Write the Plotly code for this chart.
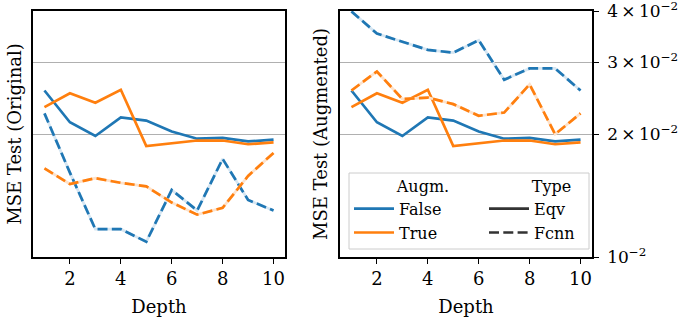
import plotly.graph_objects as go
import math

depth = [1, 2, 3, 4, 5, 6, 7, 8, 9, 10]

# Original test set
orig_eqv_false = [0.0256, 0.0214, 0.0198, 0.0220, 0.0216, 0.0203, 0.0195, 0.0196, 0.0192, 0.0194]
orig_eqv_true = [0.0233, 0.0252, 0.0239, 0.0257, 0.0187, 0.0190, 0.0193, 0.0193, 0.0189, 0.0191]
orig_fcnn_false = [0.0225, 0.0161, 0.0117, 0.0117, 0.0109, 0.0146, 0.0130, 0.0174, 0.0138, 0.0130]
orig_fcnn_true = [0.0165, 0.0151, 0.0156, 0.0152, 0.0149, 0.0136, 0.0127, 0.0132, 0.0158, 0.0180]

# Augmented test set
aug_eqv_false = orig_eqv_false
aug_eqv_true = orig_eqv_true
aug_fcnn_false = [0.0400, 0.0353, 0.0337, 0.0322, 0.0317, 0.0340, 0.0272, 0.0290, 0.0290, 0.0256]
aug_fcnn_true = [0.0256, 0.0285, 0.0244, 0.0246, 0.0237, 0.0222, 0.0226, 0.0265, 0.0200, 0.0225]

ytick_vals = [0.01, 0.02, 0.03, 0.04]
TS = "\u2009"
ytick_text = ["10<sup>\u22122</sup>",
              "2" + TS + "\u00d7" + TS + "10<sup>\u22122</sup>",
              "3" + TS + "\u00d7" + TS + "10<sup>\u22122</sup>",
              "4" + TS + "\u00d7" + TS + "10<sup>\u22122</sup>"]
xtick_vals = [2, 4, 6, 8, 10]

BLUE = "#1f77b4"
ORANGE = "#ff7f0e"
BLUE_GAP = "#d6e6f2"
ORANGE_GAP = "#fde2cb"
FONT = "DejaVu Serif"
FS = 18
W, H = 679, 324
LW = 2.7
DASH = "10px,4.3px"

# plot-area frame in pixels
L, R, T, B = 33, 592, 11, 257
PW, PH = R - L, B - T

fig = go.Figure()

def add(xa, ya, y, color, dashed, gap):
    if dashed:
        fig.add_trace(go.Scatter(x=depth, y=y, mode="lines", xaxis=xa, yaxis=ya,
                                 line=dict(color=gap, width=LW), showlegend=False,
                                 hoverinfo="skip"))
    fig.add_trace(go.Scatter(x=depth, y=y, mode="lines", xaxis=xa, yaxis=ya,
                             line=dict(color=color, width=LW, dash=DASH if dashed else "solid"),
                             showlegend=False))

add("x", "y", orig_eqv_false, BLUE, False, BLUE_GAP)
add("x", "y", orig_eqv_true, ORANGE, False, ORANGE_GAP)
add("x", "y", orig_fcnn_false, BLUE, True, BLUE_GAP)
add("x", "y", orig_fcnn_true, ORANGE, True, ORANGE_GAP)
add("x2", "y2", aug_eqv_false, BLUE, False, BLUE_GAP)
add("x2", "y2", aug_eqv_true, ORANGE, False, ORANGE_GAP)
add("x2", "y2", aug_fcnn_false, BLUE, True, BLUE_GAP)
add("x2", "y2", aug_fcnn_true, ORANGE, True, ORANGE_GAP)

# legend entries
for name, color in [("False", BLUE), ("True", ORANGE)]:
    fig.add_trace(go.Scatter(x=[None], y=[None], mode="lines", name=name, xaxis="x2", yaxis="y2",
                             line=dict(color=color, width=LW), legend="legend"))
for name, dash in [("Eqv", "solid"), ("Fcnn", DASH)]:
    fig.add_trace(go.Scatter(x=[None], y=[None], mode="lines", name=name, xaxis="x2", yaxis="y2",
                             line=dict(color="#333333", width=LW, dash=dash), legend="legend2"))

def dx(x):
    return (x - L) / PW

def dy(y):
    return (B - y) / PH

axis_common = dict(showline=True, linecolor="black", linewidth=1.5, mirror=True,
                   zeroline=False)
xcommon = dict(axis_common, range=[0.55, 10.45], tickvals=xtick_vals, ticks="outside",
               ticklen=5, tickwidth=1.2, tickcolor="black", showgrid=False,
               tickfont=dict(family=FONT, size=FS, color="black"),
               title=dict(text="Depth", font=dict(family=FONT, size=FS, color="black"), standoff=12))
ycommon = dict(axis_common, type="log", range=[-2, math.log10(0.0401)], tickvals=ytick_vals,
               ticktext=ytick_text, showgrid=True, gridcolor="#b0b0b0", gridwidth=1.2,
               domain=[0, 1])

LEG_FS = 16
fig.update_layout(
    width=W, height=H,
    margin=dict(l=L, r=W - R, t=T, b=H - B, autoexpand=False),
    paper_bgcolor="white", plot_bgcolor="white",
    font=dict(family=FONT, size=FS, color="black"),
    xaxis=dict(xcommon, domain=[0, dx(285)], anchor="y"),
    xaxis2=dict(xcommon, domain=[dx(340), 1], anchor="y2"),
    yaxis=dict(ycommon, anchor="x", showticklabels=False, ticks="",
               title=dict(text="MSE Test (Original)", font=dict(family=FONT, size=FS, color="black"),
                          standoff=5)),
    yaxis2=dict(ycommon, anchor="x2", side="right", ticks="outside", ticklen=5,
                tickwidth=1.2, tickcolor="black", ticklabelstandoff=5,
                ticklabeloverflow="allow",
                tickfont=dict(family=FONT, size=17, color="black")),
    legend=dict(x=dx(349), y=dy(171), xanchor="left", yanchor="top", bgcolor="rgba(0,0,0,0)",
                title=dict(text="\u00a0" * 9 + "Augm.", font=dict(family=FONT, size=LEG_FS)),
                font=dict(family=FONT, size=LEG_FS), traceorder="normal", itemwidth=40),
    legend2=dict(x=dx(484), y=dy(171), xanchor="left", yanchor="top", bgcolor="rgba(0,0,0,0)",
                 title=dict(text="\u00a0" * 9 + "Type", font=dict(family=FONT, size=LEG_FS)),
                 font=dict(family=FONT, size=LEG_FS), traceorder="normal", itemwidth=40),
    shapes=[dict(type="rect", xref="paper", yref="paper", x0=dx(349), x1=dx(589),
                 y0=dy(249), y1=dy(173),
                 line=dict(color="#cccccc", width=1),
                 fillcolor="rgba(255,255,255,0.8)", layer="above")],
    annotations=[dict(text="MSE Test (Augmented)", xref="paper", yref="paper",
                      x=dx(320), y=dy(134), textangle=-90, showarrow=False,
                      font=dict(family=FONT, size=FS, color="black"),
                      xanchor="center", yanchor="middle")],
)

fig.write_html("out.html", config={"displayModeBar": False},
               post_script="document.body.style.margin='0';")
